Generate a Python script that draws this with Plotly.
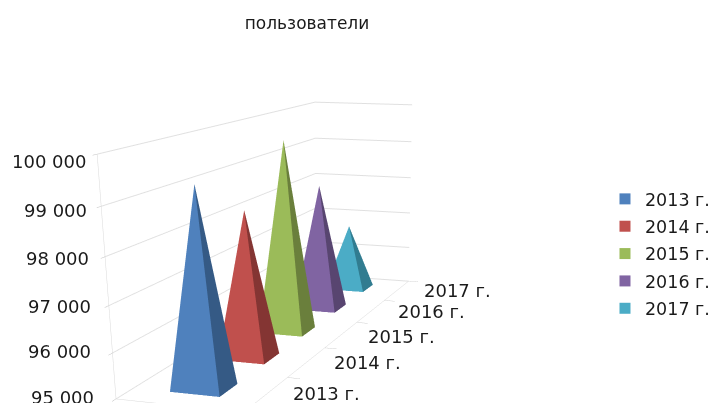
import plotly.graph_objects as go

years = ["2013 г.", "2014 г.", "2015 г.", "2016 г.", "2017 г."]
users = [99320, 98400, 99650, 98230, 96750]
front_colors = ["#4F81BD", "#C0504D", "#9BBB59", "#8064A2", "#4BACC6"]
side_colors = ["#355A85", "#843533", "#6A7F3C", "#584570", "#317C90"]
value_ticks = [95000, 96000, 97000, 98000, 99000, 100000]
value_labels = ["95 000", "96 000", "97 000", "98 000", "99 000", "100 000"]
category_centers = [0.5, 1.5, 2.5, 3.5, 4.5]
category_edges = [0, 1, 2, 3, 4, 5]

value_xshift = [-20, -19, -16, -14, -12, -9]
value_yshift = [1, 1, -1, -2, -4, -7]
year_yshift = [1, 0, -2, 0, 0]

H = 1000
fig = go.Figure()
for i, (yr, v) in enumerate(zip(years, users)):
    a, b, c, d = 0.30, 0.70, i + 0.31, i + 0.69
    fig.add_trace(go.Mesh3d(
        x=[a, b, b, a, 0.5], y=[c, c, d, d, i + 0.5], z=[95000, 95000, 95000, 95000, v],
        i=[0, 1, 2, 3], j=[1, 2, 3, 0], k=[4, 4, 4, 4],
        facecolor=[front_colors[i], side_colors[i], side_colors[i], front_colors[i]],
        flatshading=True, showlegend=False, hoverinfo="skip",
        lighting=dict(ambient=1, diffuse=0, specular=0, fresnel=0),
    ))
    fig.add_trace(go.Scatter(
        x=[None], y=[None], mode="markers", name=yr, legendgroup=yr,
        marker=dict(symbol="square", size=11, color=front_colors[i]),
    ))

label_font = dict(size=18, family="DejaVu Sans", color="#1a1a1a")
annotations = []
for v, t, dx, dy in zip(value_ticks, value_labels, value_xshift, value_yshift):
    annotations.append(dict(x=0, y=0, z=v, text=t, showarrow=False, xanchor="right", yanchor="middle",
                            xshift=dx, yshift=dy, font=label_font))
for c, t, dy in zip(category_centers, years, year_yshift):
    annotations.append(dict(x=1, y=c, z=95000, text=t, showarrow=False, xanchor="left", yanchor="middle",
                            xshift=25, yshift=dy, font=label_font))

axis_common = dict(showbackground=False, showspikes=False, title="", zeroline=False,
                   showline=True, linecolor="#d9d9d9", linewidth=1, mirror=False, showticklabels=False)
fig.update_layout(
    width=715, height=H, margin=dict(l=0, r=0, t=0, b=0),
    paper_bgcolor="white", plot_bgcolor="rgba(0,0,0,0)",
    font=dict(family="DejaVu Sans", color="#1a1a1a"),
    xaxis=dict(visible=False), yaxis=dict(visible=False),
    title=dict(text="пользователи", x=307 / 715, xanchor="center",
               y=1 - 23 / H, yanchor="middle", font=dict(size=17, color="#1a1a1a")),
    legend=dict(x=626 / 715, xanchor="left", y=1 - 181 / H, yanchor="top",
                font=dict(size=17.5), traceorder="grouped", tracegroupgap=1.6,
                bgcolor="rgba(0,0,0,0)"),
    scene=dict(
        domain=dict(x=[0, 1], y=[0, 1]),
        aspectmode="manual", aspectratio=dict(x=0.226, y=1.0, z=0.39),
        camera=dict(eye=dict(x=0.8322, y=-2.1867, z=0.4205),
                    center=dict(x=0.1482, y=-0.0817, z=-0.5085),
                    up=dict(x=0, y=0, z=1),
                    projection=dict(type="perspective")),
        annotations=annotations,
        xaxis=dict(range=[0, 1], showgrid=False, ticks="", **axis_common),
        yaxis=dict(range=[0, 5], showgrid=False, tickvals=category_edges,
                   ticks="outside", ticklen=6, tickcolor="#bfbfbf", **axis_common),
        zaxis=dict(range=[95000, 100000], showgrid=True, gridcolor="#e0e0e0", tickvals=value_ticks,
                   ticks="outside", ticklen=6, tickcolor="#bfbfbf", **axis_common),
    ),
)
fig.write_html("out.html", config=dict(displayModeBar=False),
               post_script="document.body.style.margin='0';document.body.style.overflow='hidden';document.documentElement.style.overflow='hidden';")
